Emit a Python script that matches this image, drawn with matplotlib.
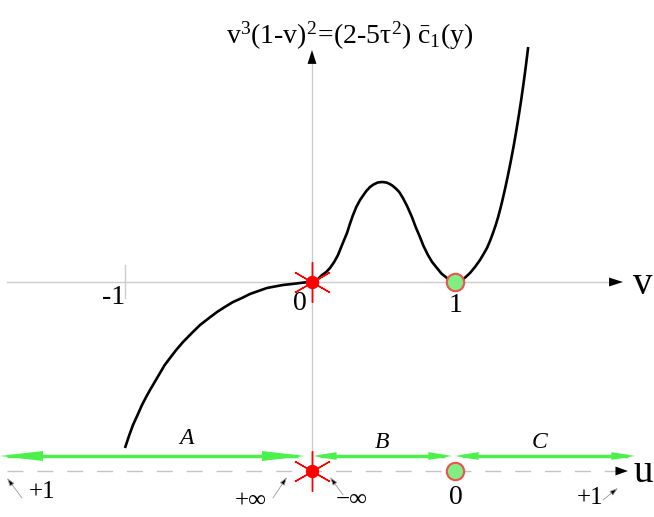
import matplotlib
matplotlib.use('Agg')
import matplotlib.pyplot as plt

plt.rcParams['font.family'] = ['Liberation Serif', 'DejaVu Serif']
plt.rcParams['mathtext.fontset'] = 'custom'
plt.rcParams['mathtext.rm'] = 'Liberation Serif'
plt.rcParams['mathtext.it'] = 'Liberation Serif:italic'

# curve v^3(1-v)^2 as drawn (schematic)
curve_pts = [
    (-1.308, -1.66), (-1.28, -1.54), (-1.252, -1.43), (-1.22, -1.33), (-1.189, -1.23),
    (-1.16, -1.15), (-1.133, -1.08), (-1.10, -1.00), (-1.063, -0.91), (-1.03, -0.83),
    (-0.993, -0.76), (-0.95, -0.68), (-0.902, -0.60), (-0.84, -0.51), (-0.783, -0.43),
    (-0.72, -0.36), (-0.664, -0.30), (-0.61, -0.25), (-0.552, -0.20), (-0.49, -0.16),
    (-0.434, -0.12), (-0.375, -0.09), (-0.315, -0.06), (-0.26, -0.045), (-0.203, -0.03),
    (-0.14, -0.02), (-0.084, -0.01), (-0.04, -0.003), (0.0, 0.0),
    (0.035, 0.02), (0.070, 0.07), (0.10, 0.10), (0.126, 0.14), (0.155, 0.20),
    (0.182, 0.27), (0.21, 0.37), (0.245, 0.49), (0.265, 0.58), (0.287, 0.67),
    (0.31, 0.75), (0.336, 0.82), (0.36, 0.87), (0.38, 0.91), (0.406, 0.95),
    (0.43, 0.975), (0.46, 0.995), (0.490, 1.00), (0.52, 0.995), (0.545, 0.98),
    (0.566, 0.96), (0.59, 0.93), (0.61, 0.90), (0.636, 0.84), (0.665, 0.76),
    (0.699, 0.65), (0.725, 0.55), (0.755, 0.45), (0.78, 0.36), (0.811, 0.27),
    (0.84, 0.20), (0.874, 0.14), (0.905, 0.085), (0.944, 0.04), (0.97, 0.015),
    (1.0, 0.0), (1.025, 0.007), (1.049, 0.02), (1.075, 0.05), (1.105, 0.09),
    (1.14, 0.15), (1.175, 0.22), (1.20, 0.28), (1.224, 0.34), (1.245, 0.41),
    (1.266, 0.49), (1.285, 0.57), (1.301, 0.645), (1.315, 0.72), (1.329, 0.80),
    (1.35, 0.93), (1.371, 1.07), (1.392, 1.22), (1.413, 1.38), (1.431, 1.53),
    (1.448, 1.68), (1.462, 1.81), (1.476, 1.95), (1.487, 2.065), (1.497, 2.175),
    (1.504, 2.255), (1.512, 2.35),
]
curve_v = [p[0] for p in curve_pts]
curve_f = [p[1] for p in curve_pts]

# v-axis tick labels
v_ticks = [-1.308, 0.0, 1.0]
v_tick_labels = ['-1', '0', '1']

# u-axis (lower line) and its regions
u_level = -1.89
regions = ['A', 'B', 'C']
region_start = [-2.182, 0.007, 1.0]
region_end = [-0.049, 0.979, 2.259]
u_labels = ['+1', '+\u221e', '\u2212\u221e', '0', '+1']

fig = plt.figure(figsize=(6.54, 5.17), dpi=100)
ax = fig.add_axes([0, 0, 1, 1])
ax.set_xlim(-2.182, 2.392)
ax.set_ylim(-2.35, 2.82)
ax.axis('off')

gray = '#cccccc'
green = '#4cf04c'

def head(tip, dx, dy, length, width, color='black'):
    ax.annotate('', xy=tip, xytext=(dx, dy), textcoords='offset points',
                arrowprops=dict(arrowstyle='-|>,head_length=%g,head_width=%g' % (length, width),
                                mutation_scale=1, lw=0, color=color,
                                shrinkA=0, shrinkB=0))

# v axis
ax.plot([-2.133, 2.08], [0, 0], color=gray, lw=1, zorder=1)
head((2.175, 0), -10, 0, 10, 3.2)
ax.text(2.31, -0.03, 'v', fontsize=28, ha='center', va='center')

# vertical axis
ax.plot([0, 0], [2.2, u_level], color=gray, lw=1, zorder=1)
head((0, 2.32), 0, -10, 10, 3.2)
ax.text(0.262, 2.38, r'$\mathrm{v^3(1\text{-}v)^2\!=\!(2\text{-}5\tau^2)\ \bar{c}_1(y)}$',
        fontsize=20, ha='center', va='baseline')

# tick at -1
ax.plot([v_ticks[0], v_ticks[0]], [0.17, -0.16], color=gray, lw=1, zorder=1)
ax.text(v_ticks[0] - 0.08, -0.15, v_tick_labels[0], fontsize=20, ha='center', va='center')
ax.text(v_ticks[1] - 0.084, -0.21, v_tick_labels[1], fontsize=20, ha='center', va='center')
ax.text(v_ticks[2] + 0.007, -0.24, v_tick_labels[2], fontsize=20, ha='center', va='center')

# curve
ax.plot(curve_v, curve_f, color='black', lw=1.9, zorder=3,
        solid_capstyle='butt', solid_joinstyle='round')

# u axis
ax.plot([-2.133, 2.14], [u_level, u_level], color='#c4c4c4', lw=1,
        dashes=(11.5, 10), zorder=1)
head((2.21, u_level), -9, 0, 9, 3.2)
ax.text(2.32, u_level - 0.02, 'u', fontsize=28, ha='center', va='center')

# green region arrows
for name, s, e in zip(regions, region_start, region_end):
    span = e - s
    big = span > 1.5
    L = 31 if big else 17
    W = 3.6 if big else 2.8
    ax.plot([s + 0.05, e - 0.05], [-1.74, -1.74], color=green, lw=2.5,
            solid_capstyle='butt', zorder=2)
    head((s, -1.74), L, 0, L, W, green)
    head((e, -1.74), -L, 0, L, W, green)
label_pos = [(-0.881, -1.56), (0.490, -1.60), (1.594, -1.61)]
for name, (x, y) in zip(regions, label_pos):
    ax.text(x, y, name, fontsize=17, style='italic', ha='center', va='center')

# special points
for y in [0, u_level]:
    ax.plot(0, y, marker=(6, 2, 0), ms=29, mec='red', mew=1.0, ls='none', zorder=5)
    ax.plot(0, y, marker='o', ms=8.6, mfc='red', mec='red', ls='none', zorder=6)
    ax.plot(1, y, marker='o', ms=12.5, mfc='#80ee80', mec='#f05050', mew=1.5,
            ls='none', zorder=6)

# u-axis value labels with pointer arrows
u_label_pos = [(-1.888, -2.10), (-0.427, -2.20), (0.280, -2.18), (1.007, -2.15), (1.944, -2.16)]
u_label_size = [18, 18, 18, 20, 18]
for txt, (x, y), fs in zip(u_labels, u_label_pos, u_label_size):
    ax.text(x, y, txt, fontsize=fs, ha='center', va='center')

pointers = [((-2.028, -2.16), (-2.133, -1.96)),
            ((-0.273, -2.16), (-0.175, -1.95)),
            ((0.217, -2.13), (0.126, -1.95)),
            ((2.035, -2.18), (2.140, -2.06))]
for tail, tip in pointers:
    ax.annotate('', xy=tip, xytext=tail,
                arrowprops=dict(arrowstyle='-|>,head_length=5,head_width=1.6',
                                mutation_scale=1, lw=0.6, ec='#999999', fc='black',
                                shrinkA=0, shrinkB=0))

fig.savefig('out.png', dpi=100)
